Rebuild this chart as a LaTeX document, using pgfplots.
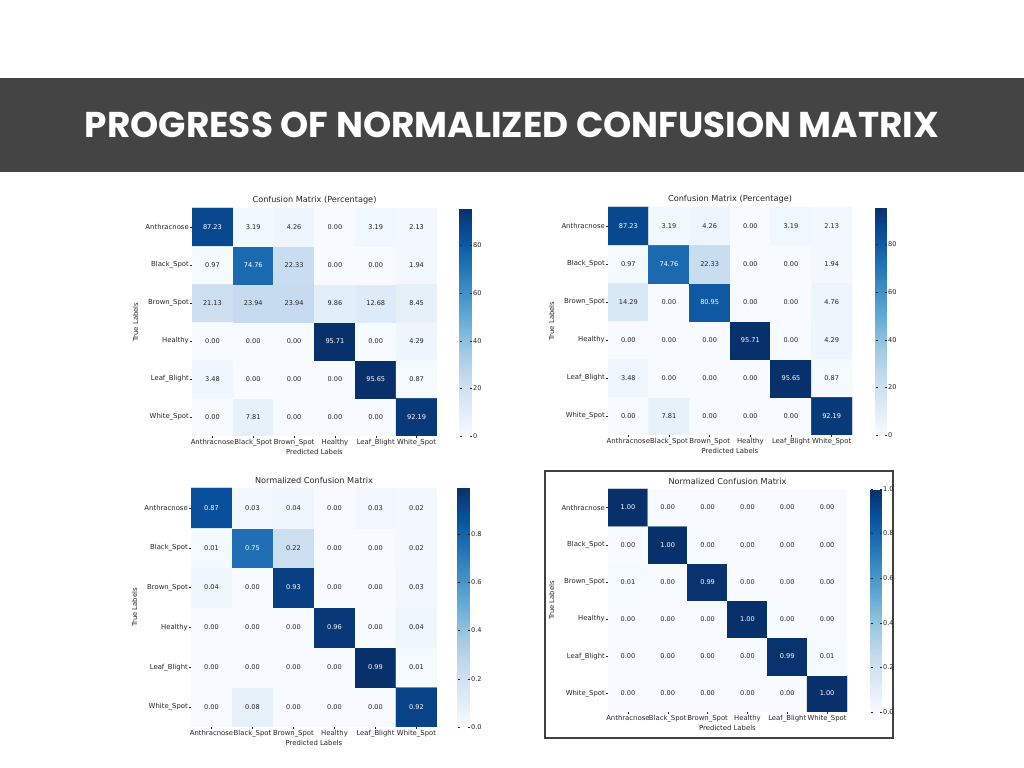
\documentclass[border=0pt]{standalone}
\usepackage{fontspec}
\setmainfont{DejaVu Sans}
\newfontfamily\bannerfont{Poppins}
\usepackage{pgfplots}
\usepackage{pgfplotstable}
\pgfplotsset{compat=1.18}
\pgfkeys{/pgf/number format/assume math mode=true}

\definecolor{banner}{HTML}{444444}
\definecolor{txt}{HTML}{262626}

% x = predicted, y = true (0 = White_Spot ... 5 = Anthracnose), c = cell value
\pgfplotstableread[row sep=\\]{
x y c\\
0 0 0.00\\ 1 0 7.81\\ 2 0 0.00\\ 3 0 0.00\\ 4 0 0.00\\ 5 0 92.19\\
0 1 3.48\\ 1 1 0.00\\ 2 1 0.00\\ 3 1 0.00\\ 4 1 95.65\\ 5 1 0.87\\
0 2 0.00\\ 1 2 0.00\\ 2 2 0.00\\ 3 2 95.71\\ 4 2 0.00\\ 5 2 4.29\\
0 3 21.13\\ 1 3 23.94\\ 2 3 23.94\\ 3 3 9.86\\ 4 3 12.68\\ 5 3 8.45\\
0 4 0.97\\ 1 4 74.76\\ 2 4 22.33\\ 3 4 0.00\\ 4 4 0.00\\ 5 4 1.94\\
0 5 87.23\\ 1 5 3.19\\ 2 5 4.26\\ 3 5 0.00\\ 4 5 3.19\\ 5 5 2.13\\
}\cmA

\pgfplotstableread[row sep=\\]{
x y c\\
0 0 0.00\\ 1 0 7.81\\ 2 0 0.00\\ 3 0 0.00\\ 4 0 0.00\\ 5 0 92.19\\
0 1 3.48\\ 1 1 0.00\\ 2 1 0.00\\ 3 1 0.00\\ 4 1 95.65\\ 5 1 0.87\\
0 2 0.00\\ 1 2 0.00\\ 2 2 0.00\\ 3 2 95.71\\ 4 2 0.00\\ 5 2 4.29\\
0 3 14.29\\ 1 3 0.00\\ 2 3 80.95\\ 3 3 0.00\\ 4 3 0.00\\ 5 3 4.76\\
0 4 0.97\\ 1 4 74.76\\ 2 4 22.33\\ 3 4 0.00\\ 4 4 0.00\\ 5 4 1.94\\
0 5 87.23\\ 1 5 3.19\\ 2 5 4.26\\ 3 5 0.00\\ 4 5 3.19\\ 5 5 2.13\\
}\cmB

\pgfplotstableread[row sep=\\]{
x y c\\
0 0 0.00\\ 1 0 0.08\\ 2 0 0.00\\ 3 0 0.00\\ 4 0 0.00\\ 5 0 0.92\\
0 1 0.00\\ 1 1 0.00\\ 2 1 0.00\\ 3 1 0.00\\ 4 1 0.99\\ 5 1 0.01\\
0 2 0.00\\ 1 2 0.00\\ 2 2 0.00\\ 3 2 0.96\\ 4 2 0.00\\ 5 2 0.04\\
0 3 0.04\\ 1 3 0.00\\ 2 3 0.93\\ 3 3 0.00\\ 4 3 0.00\\ 5 3 0.03\\
0 4 0.01\\ 1 4 0.75\\ 2 4 0.22\\ 3 4 0.00\\ 4 4 0.00\\ 5 4 0.02\\
0 5 0.87\\ 1 5 0.03\\ 2 5 0.04\\ 3 5 0.00\\ 4 5 0.03\\ 5 5 0.02\\
}\cmC

\pgfplotstableread[row sep=\\]{
x y c\\
0 0 0.00\\ 1 0 0.00\\ 2 0 0.00\\ 3 0 0.00\\ 4 0 0.00\\ 5 0 1.00\\
0 1 0.00\\ 1 1 0.00\\ 2 1 0.00\\ 3 1 0.00\\ 4 1 0.99\\ 5 1 0.01\\
0 2 0.00\\ 1 2 0.00\\ 2 2 0.00\\ 3 2 1.00\\ 4 2 0.00\\ 5 2 0.00\\
0 3 0.01\\ 1 3 0.00\\ 2 3 0.99\\ 3 3 0.00\\ 4 3 0.00\\ 5 3 0.00\\
0 4 0.00\\ 1 4 1.00\\ 2 4 0.00\\ 3 4 0.00\\ 4 4 0.00\\ 5 4 0.00\\
0 5 1.00\\ 1 5 0.00\\ 2 5 0.00\\ 3 5 0.00\\ 4 5 0.00\\ 5 5 0.00\\
}\cmD

\pgfplotsset{
  colormap={sbblues}{rgb255=(247,251,255) rgb255=(222,235,247) rgb255=(198,219,239)
    rgb255=(158,202,225) rgb255=(107,174,214) rgb255=(66,146,198) rgb255=(33,113,181)
    rgb255=(8,81,156) rgb255=(8,48,107)},
  cm/.style={
    scale only axis, anchor=north west,
    xmin=-0.5, xmax=5.5, ymin=-0.5, ymax=5.5,
    axis line style={draw=none},
    tick align=outside, tick pos=left,
    major tick length=2bp,
    tick style={draw=txt, line width=0.4bp},
    xtick={0,...,5}, ytick={0,...,5},
    xticklabels={Anthracnose,Black\_Spot,Brown\_Spot,Healthy,Leaf\_Blight,White\_Spot},
    yticklabels={White\_Spot,Leaf\_Blight,Healthy,Brown\_Spot,Black\_Spot,Anthracnose},
    ticklabel style={font=\fontsize{6.9}{7.5}\selectfont, text=txt, inner sep=1bp},
    xlabel={Predicted Labels}, ylabel={True Labels},
    xlabel style={font=\fontsize{6.9}{7.5}\selectfont, text=txt, inner sep=2bp},
    ylabel style={font=\fontsize{6.9}{7.5}\selectfont, text=txt, inner sep=6bp},
    title style={font=\fontsize{8.2}{9}\selectfont, text=txt, inner sep=1bp, yshift=-3bp},
    colormap name=sbblues,
    colorbar,
    colorbar style={
      at={(parent axis.north east)}, anchor=north west,
      width=12bp, axis line style={draw=none},
      major tick length=2bp, tick style={draw=txt, line width=0.4bp},
      ticklabel style={font=\fontsize{6.6}{7}\selectfont, text=txt, inner sep=1.5bp},
    },
  },
  cells/.style={matrix plot*, mesh/cols=6, point meta=explicit},
  vals/.style={
    only marks, mark=*, mark size=0pt, mark options={draw=none, fill=none},
    point meta=explicit,
    nodes near coords={\pgfmathprintnumber[fixed,fixed zerofill,precision=2]{\pgfplotspointmeta}},
    every node near coord/.append style={anchor=center, font=\fontsize{6.6}{7}\selectfont, text=txt},
  },
  % dark text on light cells, white text on dark cells
  lowvals/.style={vals, restrict expr to domain={\thisrow{c}}{-1:#1}},
  highvals/.style={vals, restrict expr to domain={\thisrow{c}}{#1:1000},
    every node near coord/.append style={text=white}},
}

\begin{document}
\begin{tikzpicture}
\fill[white] (0,0) rectangle (1024bp,768bp);
\useasboundingbox (0,0) rectangle (1024bp,768bp);

% banner
\fill[banner] (0,690bp) rectangle (1024bp,596bp);
\node[text=white, font=\bannerfont\bfseries\fontsize{36}{40}\selectfont] at (512bp,643bp)
  {PROGRESS OF NORMALIZED CONFUSION MATRIX};

% top left
\begin{axis}[cm, at={(192bp,560bp)}, width=245bp, height=228bp,
  title={Confusion Matrix (Percentage)},
  point meta min=0, point meta max=95.71,
  colorbar style={xshift=14bp, ytick={0,20,40,60,80}}]
\addplot[cells] table[meta=c] {\cmA};
\addplot[lowvals=50] table[meta=c] {\cmA};
\addplot[highvals=50] table[meta=c] {\cmA};
\end{axis}

% top right
\begin{axis}[cm, at={(608bp,561bp)}, width=244bp, height=228bp,
  title={Confusion Matrix (Percentage)},
  point meta min=0, point meta max=95.71,
  colorbar style={xshift=15bp, width=11bp, ytick={0,20,40,60,80}}]
\addplot[cells] table[meta=c] {\cmB};
\addplot[lowvals=50] table[meta=c] {\cmB};
\addplot[highvals=50] table[meta=c] {\cmB};
\end{axis}

% bottom left
\begin{axis}[cm, at={(191bp,280bp)}, width=246bp, height=239bp,
  title={Normalized Confusion Matrix},
  point meta min=0, point meta max=0.99,
  colorbar style={xshift=12bp, ytick={0,0.2,0.4,0.6,0.8},
    yticklabel style={/pgf/number format/.cd,fixed,fixed zerofill,precision=1}}]
\addplot[cells] table[meta=c] {\cmC};
\addplot[lowvals=0.5] table[meta=c] {\cmC};
\addplot[highvals=0.5] table[meta=c] {\cmC};
\end{axis}

% bottom right, framed
\draw[black!75, line width=1.2bp] (545bp,297bp) rectangle (893bp,30bp);
\begin{axis}[cm, at={(608bp,279bp)}, width=239bp, height=223bp,
  title={Normalized Confusion Matrix},
  point meta min=0, point meta max=1,
  colorbar style={xshift=15bp, width=11bp, ytick={0,0.2,0.4,0.6,0.8,1},
    yticklabel style={/pgf/number format/.cd,fixed,fixed zerofill,precision=1}}]
\addplot[cells] table[meta=c] {\cmD};
\addplot[lowvals=0.5] table[meta=c] {\cmD};
\addplot[highvals=0.5] table[meta=c] {\cmD};
\end{axis}
\end{tikzpicture}
\end{document}
